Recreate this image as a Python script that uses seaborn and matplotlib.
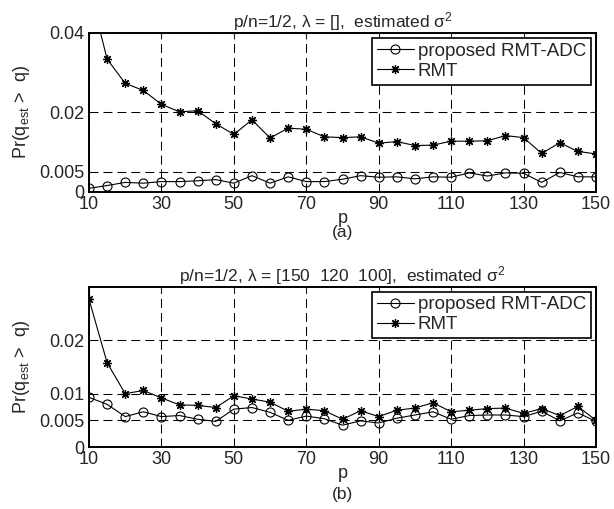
import matplotlib
matplotlib.use("Agg")
import matplotlib.pyplot as plt
import seaborn as sns
import numpy as np
import pandas as pd

p_vals = [10, 15, 20, 25, 30, 35, 40, 45, 50, 55, 60, 65, 70, 75, 80,
          85, 90, 95, 100, 105, 110, 115, 120, 125, 130, 135, 140, 145, 150]

# panel (a): lambda = []
adc_a = [0.0008, 0.0015, 0.0023, 0.0021, 0.0025, 0.0025, 0.0027, 0.0030, 0.0021, 0.0040,
         0.0021, 0.0037, 0.0025, 0.0025, 0.0031, 0.0040, 0.0036, 0.0037, 0.0032, 0.0037,
         0.0036, 0.0047, 0.0039, 0.0047, 0.0046, 0.0023, 0.0048, 0.0037, 0.0037]
rmt_a = [0.0517, 0.0334, 0.0273, 0.0255, 0.0220, 0.0201, 0.0204, 0.0171, 0.0144, 0.0181,
         0.0135, 0.0160, 0.0157, 0.0138, 0.0136, 0.0138, 0.0122, 0.0126, 0.0116, 0.0117,
         0.0127, 0.0127, 0.0128, 0.0141, 0.0136, 0.0096, 0.0123, 0.0101, 0.0095]

# panel (b): lambda = [150 120 100]
adc_b = [0.0093, 0.0080, 0.0057, 0.0066, 0.0057, 0.0059, 0.0052, 0.0048, 0.0071, 0.0074,
         0.0065, 0.0050, 0.0058, 0.0053, 0.0041, 0.0049, 0.0045, 0.0054, 0.0060, 0.0066,
         0.0052, 0.0059, 0.0060, 0.0060, 0.0057, 0.0067, 0.0049, 0.0064, 0.0048]
rmt_b = [0.0277, 0.0158, 0.0100, 0.0106, 0.0092, 0.0079, 0.0078, 0.0074, 0.0096, 0.0090,
         0.0084, 0.0067, 0.0071, 0.0068, 0.0052, 0.0068, 0.0057, 0.0069, 0.0073, 0.0083,
         0.0066, 0.0069, 0.0072, 0.0073, 0.0063, 0.0072, 0.0059, 0.0076, 0.0050]

x_ticks = [10, 30, 50, 70, 90, 110, 130, 150]
yticks_a = [0, 0.005, 0.02, 0.04]
yticks_b = [0, 0.005, 0.01, 0.02]
yticklabels_a = ["0", "0.005", "0.02", "0.04"]
yticklabels_b = ["0", "0.005", "0.01", "0.02"]

titles = ["p/n=1/2, λ = [],  estimated σ$^2$",
          "p/n=1/2, λ = [150  120  100],  estimated σ$^2$"]
panel_labels = ["(a)", "(b)"]
series_names = ["proposed RMT-ADC", "RMT"]

sns.set_style("white")
plt.rcParams["font.family"] = ["Liberation Sans", "DejaVu Sans"]
plt.rcParams["mathtext.fontset"] = "custom"
plt.rcParams["mathtext.rm"] = "Liberation Sans"
plt.rcParams["mathtext.it"] = "Liberation Sans"
plt.rcParams["mathtext.default"] = "rm"

W, H = 614, 509
fig = plt.figure(figsize=(W / 100, H / 100), dpi=100)

def px_axes(left, top, right, bottom):
    return fig.add_axes([left / W, 1 - bottom / H, (right - left) / W, (bottom - top) / H])

ax_a = px_axes(89, 33, 596, 191.5)
ax_b = px_axes(89, 287, 596, 447)

panels = [
    (ax_a, adc_a, rmt_a, (0, 0.04), yticks_a, yticklabels_a, 0.968, 233),
    (ax_b, adc_b, rmt_b, (0, 0.030), yticks_b, yticklabels_b, 0.971, 495),
]

asterisk = (8, 2, 0)
grid_ls = (0, (8.6, 4.8))
for i, (ax, adc, rmt, ylim, yt, ytl, leg_top, lab_y) in enumerate(panels):
    df = pd.DataFrame({"p": p_vals, "adc": adc, "rmt": rmt})
    sns.lineplot(data=df, x="p", y="adc", ax=ax, color="k", linewidth=0.8,
                 marker="o", markersize=6.5, markerfacecolor="none",
                 markeredgecolor="k", markeredgewidth=0.8, label=series_names[0])
    sns.lineplot(data=df, x="p", y="rmt", ax=ax, color="k", linewidth=0.8,
                 marker=asterisk, markersize=6.5, markerfacecolor="k",
                 markeredgecolor="k", markeredgewidth=0.9, label=series_names[1])
    ax.set_xlim(10, 150)
    ax.set_ylim(*ylim)
    ax.set_xticks(x_ticks)
    ax.set_xticklabels([str(t) for t in x_ticks])
    ax.set_yticks(yt)
    ax.set_yticklabels(ytl)
    ax.grid(True, color="k", linestyle=grid_ls, linewidth=0.75)
    ax.tick_params(axis="both", direction="in", length=4, width=0.8,
                   labelsize=13, pad=3, top=True, right=True)
    for s in ax.spines.values():
        s.set_linewidth(1.4)
        s.set_color("k")
    ax.set_title(titles[i], fontsize=12.5, pad=4)
    ax.set_xlabel("p", fontsize=13, labelpad=-2)
    ax.set_ylabel(r"Pr(q$_{\mathrm{est}}$ >  q)", fontsize=13)
    ax.yaxis.set_label_coords(-0.112, 0.5)
    leg = ax.legend(loc="upper right", bbox_to_anchor=(0.990, leg_top),
                    borderaxespad=0, fontsize=13.5, frameon=True, fancybox=False,
                    edgecolor="k", framealpha=1, handlelength=2.0,
                    handletextpad=0.2, labelspacing=0.15, borderpad=0.25)
    leg.get_frame().set_linewidth(1.2)
    fig.text((89 + 596) / 2 / W, 1 - lab_y / H, panel_labels[i], ha="center",
             va="center", fontsize=12.5)

fig.savefig("out.png", dpi=100)
